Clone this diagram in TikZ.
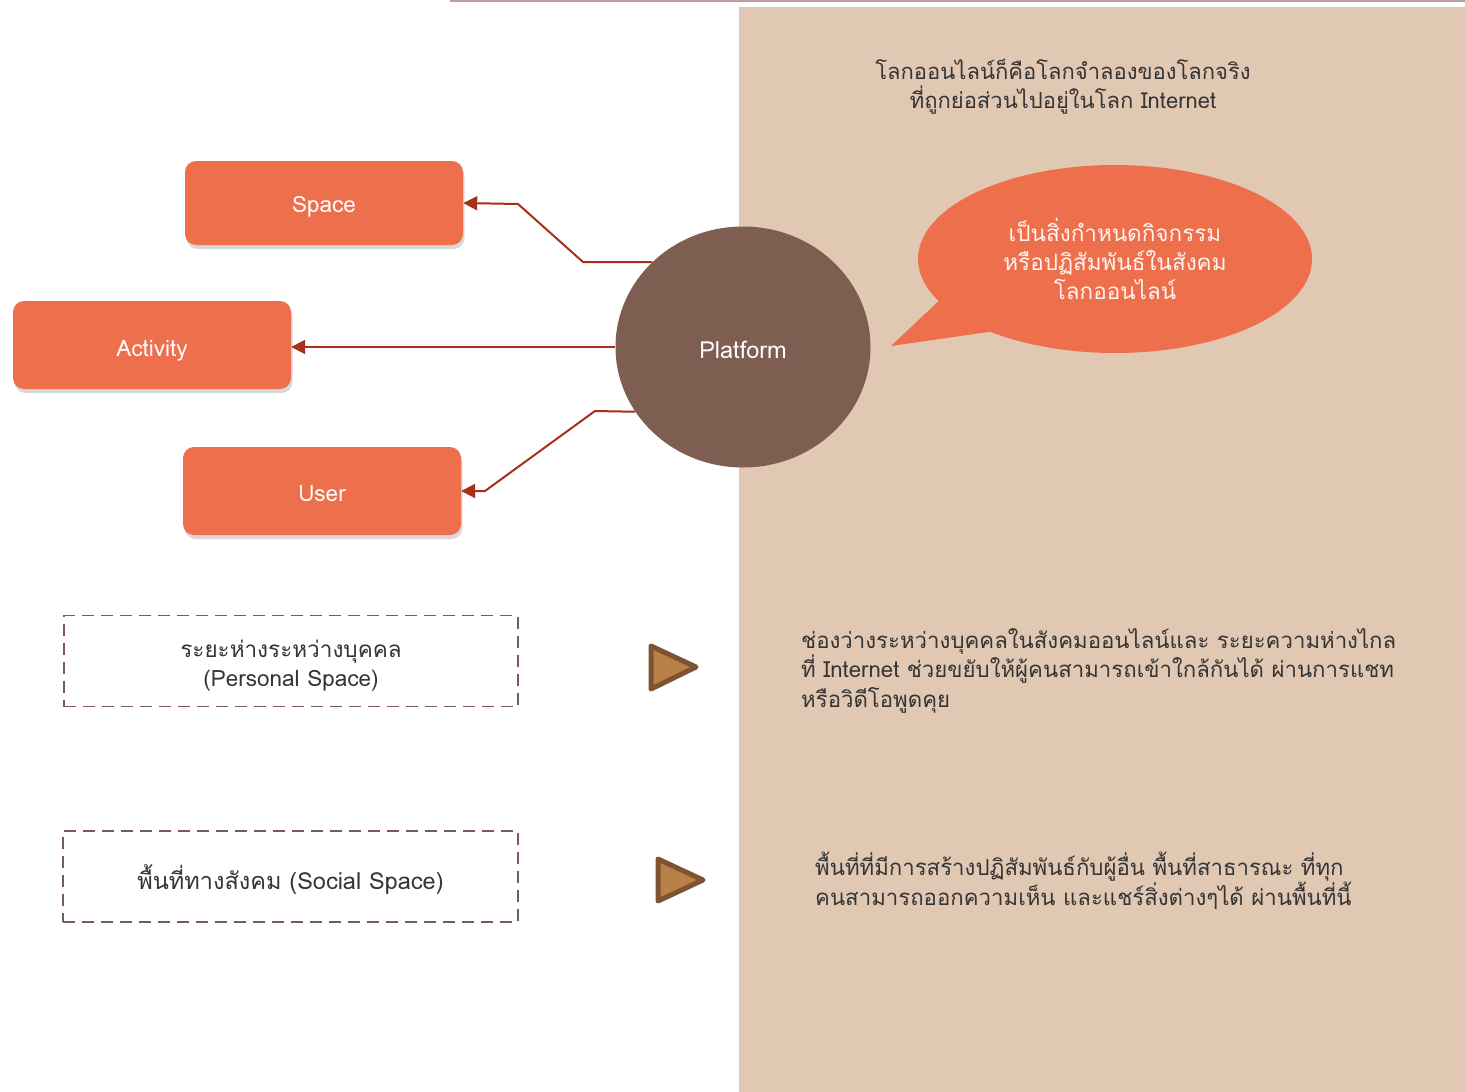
\documentclass[tikz,border=0pt]{standalone}
\usepackage{fontspec}
\setmainfont[Script=Thai]{Loma}
\usetikzlibrary{shapes.geometric,shadows,arrows.meta}
\definecolor{orng}{HTML}{EE6F4B}
\definecolor{plat}{HTML}{7D5E50}
\definecolor{beige}{HTML}{E1C8B3}
\definecolor{conn}{HTML}{A8301A}
\definecolor{dashc}{HTML}{7B5C55}
\definecolor{topl}{HTML}{B9A19B}
\definecolor{txt}{HTML}{353535}
\definecolor{trif}{HTML}{B98148}
\definecolor{trid}{HTML}{7D5331}
\tikzset{
  obox/.style={draw=none, fill=orng, rounded corners=11pt, minimum width=278pt, minimum height=84pt,
     drop shadow={shadow xshift=1.5pt, shadow yshift=-4pt, opacity=0.3}},
  wlbl/.style={text=white, font=\fontsize{22.5}{26}\selectfont},
  dbox/.style={draw=dashc, line width=1.8pt, dash pattern=on 12pt off 7pt, minimum width=454pt, minimum height=91pt},
  dlbl/.style={text=txt, font=\fontsize{22.5}{29}\selectfont, align=center},
  cline/.style={draw=conn, line width=2pt, -{Triangle[length=14pt,width=14pt]}},
  rtext/.style={text=txt, font=\fontsize{22.2}{29.5}\selectfont, align=left, anchor=north west, inner sep=0pt},
  playtri/.style={fill=trif, draw=trid, line width=5pt, line join=round},
}
\begin{document}
\begin{tikzpicture}[x=1pt,y=-1pt]
\useasboundingbox (0,0) rectangle (1465,1092);
\fill[white] (0,0) rectangle (1465,1092);
% background panel and top line
\fill[beige] (739,7) rectangle (1465,1092);
\draw[topl, line width=2pt] (450,1) -- (1465,1);

% boxes
\node[obox, label={[wlbl,yshift=-4pt]center:Space}] (space) at (324,203) {};
\node[obox, minimum height=88pt, label={[wlbl,yshift=-6pt]center:Activity}] (activity) at (152,345) {};
\node[obox, minimum height=88pt, label={[wlbl,yshift=-3pt]center:User}] (user) at (322,491) {};

% platform
\node[ellipse, fill=plat, minimum width=255pt, minimum height=241pt,
      label={[wlbl,font=\fontsize{23.5}{26}\selectfont,yshift=-3pt]center:Platform}] (platform) at (743,347) {};

% connectors
\coordinate (s1) at (583,262);
\coordinate (s2) at (518,204);
\draw[cline] (platform.137) -- (s1) -- (s2) -- (space.east);
\draw[cline] (platform.west) -- (activity.east |- platform.west);
\coordinate (u1) at (595,411);
\coordinate (u2) at (485,491);
\draw[cline] (platform.211) -- (u1) -- (u2) -- (user.east);

% speech bubble
\node[ellipse, fill=orng, minimum width=394pt, minimum height=188pt] (bubble) at (1115,259) {};
\coordinate (tip) at (891,346);
\fill[orng] (942,298) -- (tip) -- (995,331) -- cycle;
\node[text=white!92!orng, font=\fontsize{22.5}{29}\selectfont, align=center] (btext) at (1115,258.5)
  {เป็นสิ่งกำหนดกิจกรรม\\หรือปฏิสัมพันธ์ในสังคม\\โลกออนไลน์};

% top text
\node[text=txt, font=\fontsize{22}{29}\selectfont, align=center] (toptext) at (1063,87)
  {โลกออนไลน์ก็คือโลกจำลองของโลกจริง\\ที่ถูกย่อส่วนไปอยู่ในโลก Internet};

% dashed boxes
\node[dbox] (pspace) at (291,661) {};
\node[dlbl] (ptitle) at (291,666) {ระยะห่างระหว่างบุคคล\\(Personal Space)};
\node[dbox, minimum width=455pt] (sspace) at (290.5,876.5) {};
\node[dlbl, font=\fontsize{23.5}{29}\selectfont] (stitle) at (290.5,880) {พื้นที่ทางสังคม (Social Space)};

% play triangles
\draw[playtri] (651,646) -- (696,667) -- (651,689) -- cycle;
\draw[playtri] (658,859) -- (703,880) -- (658,901) -- cycle;

% right texts
\node[rtext] (ptext) at (801,628)
  {ช่องว่างระหว่างบุคคลในสังคมออนไลน์และ ระยะความห่างไกล\\ที่ Internet ช่วยขยับให้ผู้คนสามารถเข้าใกล้กันได้ ผ่านการแชท\\หรือวิดีโอพูดคุย};
\node[rtext] (stext) at (815,852)
  {พื้นที่ที่มีการสร้างปฏิสัมพันธ์กับผู้อื่น พื้นที่สาธารณะ ที่ทุก\\คนสามารถออกความเห็น และแชร์สิ่งต่างๆได้ ผ่านพื้นที่นี้};
\end{tikzpicture}
\end{document}
